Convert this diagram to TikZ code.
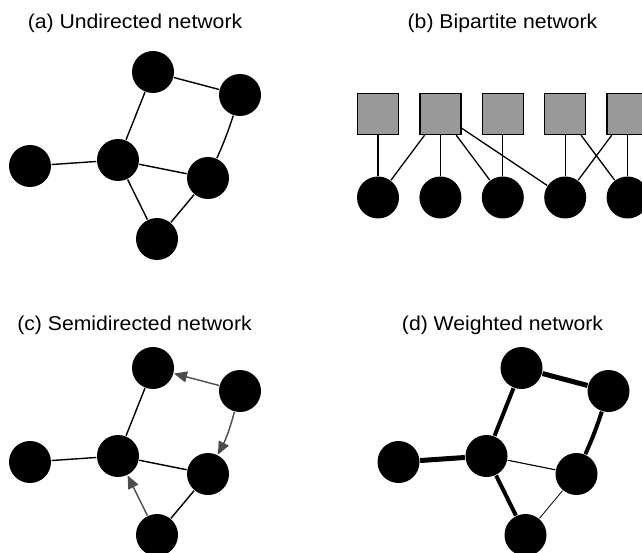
\documentclass[tikz,border=0pt]{standalone}
\usepackage{fontspec}
\setmainfont{Liberation Sans}
\usetikzlibrary{arrows.meta}

\begin{document}
\begin{tikzpicture}[x=1pt, y=1pt, line width=1.4pt, node distance=62.4pt,
  vertex/.style={circle, fill=black, inner sep=0pt, minimum size=42pt},
  topset/.style={rectangle, draw=black, fill=black!40, inner sep=0pt, minimum size=41pt, line width=1.3pt},
  caption/.style={anchor=base, xscale=1.06, font=\fontsize{20}{24}\selectfont},
  onearrow/.style={draw=black!70, -{Triangle[length=13pt,width=11pt]}},
  heavy/.style={line width=5pt},
  medium/.style={line width=4pt},
  light/.style={line width=1.1pt},
  lighter/.style={line width=0.8pt}]

\useasboundingbox (0,0) rectangle (642,-553);
\clip (0,0) rectangle (642,-553);

% titles
\node[caption] (ta) at (135,-28.3)   {(a) Undirected network};
\node[caption] (tb) at (502.5,-28.3) {(b) Bipartite network};
\node[caption] (tc) at (134.5,-330)  {(c) Semidirected network};
\node[caption] (td) at (502.5,-330)  {(d) Weighted network};

% (a)
\node[vertex] (A1) at (153,-72)  {};
\node[vertex] (A2) at (240,-95)  {};
\node[vertex] (A3) at (30,-166)  {};
\node[vertex] (A4) at (118,-160) {};
\node[vertex] (A5) at (208,-178) {};
\node[vertex] (A6) at (157,-239) {};
\path
      (A1) edge                  (A2)
      (A1) edge                  (A4)
      (A2) edge [bend left=3]    (A5)
      (A3) edge                  (A4)
      (A4) edge                  (A5)
      (A4) edge                  (A6)
      (A5) edge                  (A6);

% (b)
\node[topset] (P1) at (378,-114) {};
\node[topset] (P2) [right of=P1] {};
\node[topset] (P3) [right of=P2] {};
\node[topset] (P4) [right of=P3] {};
\node[topset] (P5) [right of=P4] {};

\node[vertex] (Q1) [node distance=83.5pt, below of=P1] {};
\node[vertex] (Q2) [node distance=83.5pt, below of=P2] {};
\node[vertex] (Q3) [node distance=83.5pt, below of=P3] {};
\node[vertex] (Q4) [node distance=83.5pt, below of=P4] {};
\node[vertex] (Q5) [node distance=83.5pt, below of=P5] {};
\path[line width=1.3pt]
      (P1) edge (Q1)
      (P2) edge (Q1)
      (P2) edge (Q2)
      (P2) edge (Q3)
      (P2) edge (Q4)
      (P3) edge (Q3)
      (P4) edge (Q4)
      (P4) edge (Q5)
      (P5) edge (Q4)
      (P5) edge (Q5);

% (c)
\node[vertex] (C1) at (153,-368) {};
\node[vertex] (C2) at (240,-391) {};
\node[vertex] (C3) at (30,-462)  {};
\node[vertex] (C4) at (118,-456) {};
\node[vertex] (C5) at (208,-474) {};
\node[vertex] (C6) at (157,-535) {};
\path
      (C1) edge                          (C4)
      (C2) edge [onearrow]               (C1)
      (C2) edge [onearrow, bend left=6]  (C5)
      (C3) edge                          (C4)
      (C4) edge                          (C5)
      (C6) edge [onearrow]               (C4)
      (C5) edge                          (C6);

% (d)
\node[vertex] (D1) at (521.5,-368) {};
\node[vertex] (D2) at (608.5,-391) {};
\node[vertex] (D3) at (398.5,-462) {};
\node[vertex] (D4) at (486.5,-456) {};
\node[vertex] (D5) at (576.5,-474) {};
\node[vertex] (D6) at (525.5,-535) {};
\path
      (D1) edge [heavy]                (D2)
      (D1) edge [medium]               (D4)
      (D2) edge [medium, bend left=3]  (D5)
      (D3) edge [heavy]                (D4)
      (D4) edge [light]                (D5)
      (D4) edge [medium]               (D6)
      (D5) edge [lighter]              (D6);
\end{tikzpicture}
\end{document}
